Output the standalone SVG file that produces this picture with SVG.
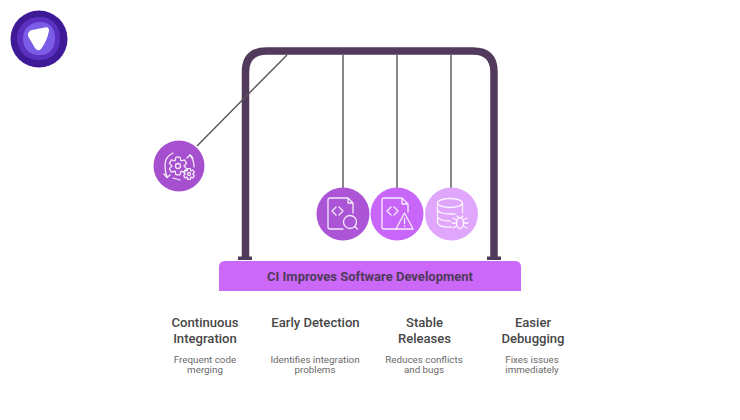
<svg xmlns="http://www.w3.org/2000/svg" width="740" height="420" viewBox="0 0 740 420">
<style>
text{font-family:Roboto,"Liberation Sans",sans-serif;text-anchor:middle}
.h{font-size:13.100px;font-weight:500;fill:#474747}
.s{font-size:9.800px;fill:#6a6a6a}
.i{fill:none;stroke:#fff;stroke-width:1.300;stroke-linecap:round;stroke-linejoin:round;opacity:.88}
.w{fill:none;stroke:#555;stroke-width:1.400}
</style>
<defs>
<path id="gear" vector-effect="non-scaling-stroke" d="M-2-8.800L2-8.800L3-5.200L6.600-6.100L8.600-2.600L6 0L8.600 2.600L6.600 6.100L3 5.200L2 8.800L-2 8.800L-3 5.200L-6.600 6.100L-8.600 2.600L-6 0L-8.600-2.600L-6.600-6.100L-3-5.200Z"/>
</defs>
<rect width="740" height="420" fill="#fff"/>
<g id="logo">
<circle cx="39" cy="39" r="28.500" fill="#3f1a96"/>
<path d="M39 17C52 16 61 27 60 39C60 52 50 61 38 60C26 60 17 50 17 38C17 26 27 17 39 17Z" fill="#5b2fbf"/>
<path d="M39 22C49 21 56 29 55 39C55 49 48 56 39 55C29 55 23 48 23 39C23 29 29 23 39 22Z" fill="#7a5ce6"/>
<path d="M29 32Q27 34 28.500 37L35 48Q38 52 41 49Q47 41 49 31Q49 26.500 45 27.500L32 30Q30 30 29 32Z" fill="#fff"/>
</g>
<g id="connectors">
<path d="M245.500 259V72Q245.500 51 266.500 51H473Q494 51 494 72V259" fill="none" stroke="#523a5c" stroke-width="7.500"/>
<rect x="238" y="256.500" width="14" height="3.500" fill="#523a5c"/>
<rect x="487" y="256.500" width="14" height="3.500" fill="#523a5c"/>
<path class="w" d="M287 55L197 146"/>
<path class="w" d="M343 55V188"/>
<path class="w" d="M397 55V188"/>
<path class="w" d="M451 55V188"/>
</g>
<g id="node-ci">
<circle cx="179" cy="166" r="25.500" fill="#a750cf"/>
<path class="i" d="M173 153Q165 157 165 165Q165 172 167 177M173 178L180 180M190 155Q194 160 194 167"/>
<path class="i" d="M164 174L167 177.500L170 175M187 158L190 155L193 158"/>
<use href="#gear" class="i" transform="translate(178 166)"/>
<circle class="i" cx="178" cy="166" r="2.500"/>
<use href="#gear" class="i" transform="translate(189 174) scale(.62)"/>
<circle class="i" cx="189" cy="174" r="1.500"/>
</g>
<g id="node-detect">
<circle cx="343" cy="214" r="26.500" fill="#ab55d6"/>
<path class="i" d="M343 229H330Q328 229 328 227V200Q328 198 330 198H348L353 203V213M348 198V203H353"/>
<path class="i" d="M336 207L332 211L336 215M339 207L343 211L339 215"/>
<circle class="i" cx="350" cy="222" r="6.500"/><path class="i" d="M354.500 226.500L357.500 229"/>
</g>
<g id="node-stable">
<circle cx="397" cy="214" r="26.500" fill="#c766f8"/>
<path class="i" d="M396 229H384Q382 229 382 227V200Q382 198 384 198H402L408 204V212M402 198V204H408"/>
<path class="i" d="M391 207L387 211L391 215M394 207L398 211L394 215"/>
<path class="i" d="M404.500 213L396 229H413Z"/><path class="i" d="M404.500 218.500V223.500M404.500 226V226.500"/>
</g>
<g id="node-debug">
<circle cx="451.500" cy="214" r="26.500" fill="#dfa6fc"/>
<ellipse class="i" cx="450" cy="203" rx="12.500" ry="4.500"/>
<path class="i" d="M437.500 203V223Q440 228 451 227M462.500 203V213M437.500 210Q440 214 450 214H455M437.500 217Q440 221 450 221"/>
<ellipse class="i" cx="460" cy="223" rx="3.500" ry="5.500"/>
<path class="i" d="M453 218L456.500 220M467 218L463.500 220M452 223H456.500M468 223H463.500M453 228L456.500 226M467 228L463.500 226M457 216L459 218M463 216L461 218"/>
</g>
<g id="base">
<path d="M219 291V267Q219 261 225 261H515Q521 261 521 267V291Z" fill="#cc68f8"/>
<text x="370" y="280.500" font-size="13px" font-weight="700" fill="#4f3a5a">CI Improves Software Development</text>
</g>
<g id="label-1">
<text class="h" x="205" y="327">Continuous</text><text class="h" x="205" y="342.500">Integration</text>
<text class="s" x="205" y="362.500">Frequent code</text><text class="s" x="205" y="373">merging</text>
</g>
<g id="label-2">
<text class="h" x="315.500" y="327">Early Detection</text>
<text class="s" x="315" y="362.500">Identifies integration</text><text class="s" x="315" y="373">problems</text>
</g>
<g id="label-3">
<text class="h" x="424.500" y="327">Stable</text><text class="h" x="424.500" y="342.500">Releases</text>
<text class="s" x="424" y="362.500">Reduces conflicts</text><text class="s" x="424" y="373">and bugs</text>
</g>
<g id="label-4">
<text class="h" x="533" y="327">Easier</text><text class="h" x="533" y="342.500">Debugging</text>
<text class="s" x="532" y="362.500">Fixes issues</text><text class="s" x="532" y="373">immediately</text>
</g>
</svg>
